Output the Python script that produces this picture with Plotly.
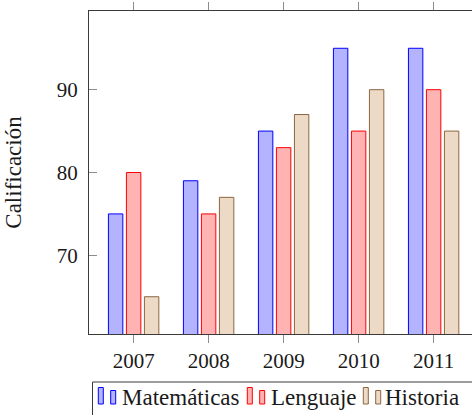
import plotly.graph_objects as go

# Scores per subject and year
years = [2007, 2008, 2009, 2010, 2011]
year_labels = ["2007", "2008", "2009", "2010", "2011"]
subjects = ["Matemáticas", "Lenguaje", "Historia"]
matematicas = [75, 79, 85, 95, 95]
lenguaje = [80, 75, 83, 85, 90]
historia = [65, 77, 87, 90, 85]
y_ticks = [70, 80, 90]

series = [matematicas, lenguaje, historia]
fills = ["#b3b3ff", "#ffb3b3", "#ecdac6"]
edges = ["#0000ff", "#ff0000", "#8c6640"]

W, H = 472, 415
ML, MT, MR, MB = 89, 11, 0, 81
PW, PH = W - ML - MR, H - MT - MB

FONT = "Liberation Serif"
TXT = "#1a1a1a"

bar_w = 0.192
step = 0.24

fig = go.Figure()
for i, (name, vals) in enumerate(zip(subjects, series)):
    fig.add_trace(go.Bar(
        x=years, y=vals, name=name,
        width=bar_w, offset=(i - 1) * step - bar_w / 2,
        marker=dict(color=fills[i], line=dict(color=edges[i], width=1)),
        showlegend=False,
    ))

x0 = 2006.405
x1 = x0 + PW / 75.0

fig.update_layout(
    width=W, height=H,
    margin=dict(l=ML, r=MR, t=MT, b=MB, pad=0),
    plot_bgcolor="white", paper_bgcolor="white",
    barmode="overlay",
    font=dict(family=FONT, size=21, color=TXT),
    xaxis=dict(
        range=[x0, x1], tickvals=years, ticktext=year_labels,
        ticks="outside", ticklen=8, tickwidth=1, tickcolor="#8c8c8c",
        showline=True, linecolor="#3a3a3a", linewidth=1, mirror="ticks",
        showgrid=False, zeroline=False,
        tickfont=dict(family=FONT, size=21, color=TXT),
    ),
    yaxis=dict(
        range=[60.5, 99.5], tickvals=y_ticks,
        ticks="inside", ticklen=8, tickwidth=1, tickcolor="#8c8c8c",
        showline=True, linecolor="#3a3a3a", linewidth=1,
        showgrid=False, zeroline=False,
        ticklabelstandoff=6,
        tickfont=dict(family=FONT, size=21, color=TXT),
        title=dict(text="Calificación", standoff=28,
                   font=dict(family=FONT, size=23, color=TXT)),
    ),
    yaxis2=dict(
        range=[60.5, 99.5], tickvals=y_ticks, overlaying="y", side="right",
        ticks="inside", ticklen=3, tickwidth=1, tickcolor="#8c8c8c",
        showline=False, showgrid=False, zeroline=False, showticklabels=False,
    ),
)


def px(xp):
    return (xp - ML) / PW


def py(yp):
    return (MT + PH - yp) / PH


# Legend frame and entries (two small bars followed by the subject name)
shapes = [dict(type="rect", xref="paper", yref="paper",
               x0=px(92.5), x1=px(490), y0=py(382), y1=py(430),
               line=dict(color="#3a3a3a", width=1), fillcolor="rgba(0,0,0,0)")]
annotations = []
sym_x = [98.3, 247.3, 363.3]
text_x = [120.5, 270.0, 384.0]
for i, name in enumerate(subjects):
    for dx, top in ((0, 387.5), (12.4, 390.5)):
        shapes.append(dict(type="rect", xref="paper", yref="paper",
                           x0=px(sym_x[i] + dx), x1=px(sym_x[i] + dx + 5),
                           y0=py(404), y1=py(top),
                           line=dict(color=edges[i], width=1), fillcolor=fills[i]))
    annotations.append(dict(text=name, xref="paper", yref="paper",
                            x=px(text_x[i]), y=py(397.5), xanchor="left", yanchor="middle",
                            showarrow=False, borderpad=0,
                            font=dict(family=FONT, size=23, color=TXT)))

fig.update_layout(shapes=shapes, annotations=annotations)

fig.write_html("out.html")
